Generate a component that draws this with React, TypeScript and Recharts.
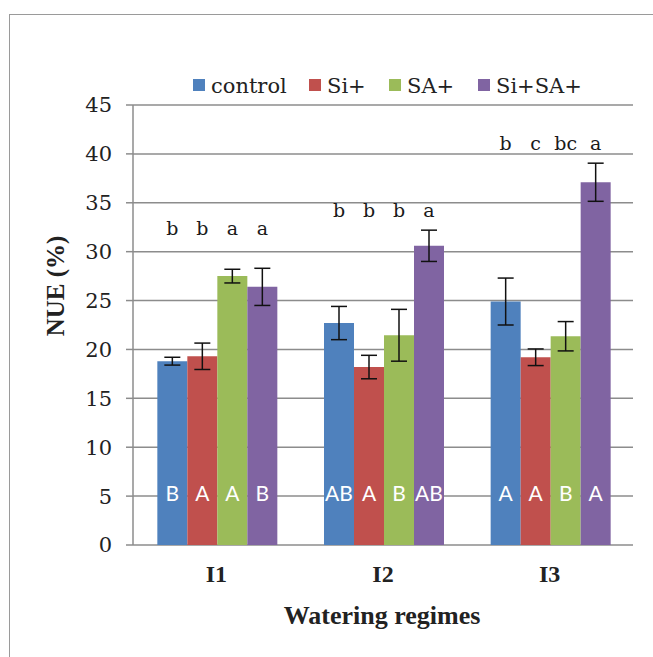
import React from 'react';
import { BarChart, Bar, XAxis, YAxis, CartesianGrid, ErrorBar, LabelList } from 'recharts';

const categories = ['I1', 'I2', 'I3'];
const seriesNames = ['control', 'Si+', 'SA+', 'Si+SA+'];
const seriesColors = ['#4F81BD', '#C0504D', '#9BBB59', '#8064A2'];

const controlValues = [18.8, 22.7, 24.9];
const siValues = [19.3, 18.2, 19.2];
const saValues = [27.5, 21.45, 21.35];
const siSaValues = [26.4, 30.6, 37.1];

const controlErr = [0.4, 1.7, 2.4];
const siErr = [1.35, 1.2, 0.85];
const saErr = [0.7, 2.65, 1.5];
const siSaErr = [1.9, 1.6, 1.95];

const controlLower = ['b', 'b', 'b'];
const siLower = ['b', 'b', 'c'];
const saLower = ['a', 'b', 'bc'];
const siSaLower = ['a', 'a', 'a'];

const controlUpper = ['B', 'AB', 'A'];
const siUpper = ['A', 'A', 'A'];
const saUpper = ['A', 'B', 'B'];
const siSaUpper = ['B', 'AB', 'A'];

// height (in NUE units) of the lowercase significance letters per group
const lowerLetterLevel = [31.7, 33.5, 40.4];
// height (in NUE units) of the uppercase letters inside bars
const upperLetterLevel = 5.3;

const yTicks = [0, 5, 10, 15, 20, 25, 30, 35, 40, 45];
const sepTicks = [0, 1, 2, 3];

const valueArrays = [controlValues, siValues, saValues, siSaValues];
const errArrays = [controlErr, siErr, saErr, siSaErr];
const lowerArrays = [controlLower, siLower, saLower, siSaLower];
const upperArrays = [controlUpper, siUpper, saUpper, siSaUpper];

const data = categories.map((cat, i) => {
  const row: any = { cat };
  for (let s = 0; s < 4; s++) {
    row['v' + s] = valueArrays[s][i];
    row['e' + s] = errArrays[s][i];
    row['l' + s] = lowerArrays[s][i];
    row['u' + s] = upperArrays[s][i];
  }
  return row;
});

const SERIF = "'DejaVu Serif', serif";
const SERIF_BOLD = "'Liberation Serif', 'Times New Roman', serif";
const SANS = "Lato, 'Open Sans', sans-serif";

function makeLower(s: number) {
  return (props: any) => {
    const { x, y, width, height, index, value } = props;
    const i = typeof index === 'number' ? index : 0;
    const v = valueArrays[s][i];
    if (!height || !v) return null;
    const bottom = y + height;
    const ppu = height / v;
    const ty = bottom - lowerLetterLevel[i] * ppu;
    return (
      <text x={x + width / 2} y={ty} textAnchor="middle" style={{ fontFamily: SERIF }} fontSize={19} fill="#1a1a1a">
        {value}
      </text>
    );
  };
}

function makeUpper(s: number) {
  return (props: any) => {
    const { x, y, width, height, index, value } = props;
    const i = typeof index === 'number' ? index : 0;
    const v = valueArrays[s][i];
    if (!height || !v) return null;
    const bottom = y + height;
    const ppu = height / v;
    const ty = bottom - upperLetterLevel * ppu;
    return (
      <text x={x + width / 2} y={ty} dy="0.36em" textAnchor="middle" style={{ fontFamily: SANS }} fontSize={21} fill="#ffffff">
        {value}
      </text>
    );
  };
}

const legendSquares = [193, 309, 389, 478];

export default function App() {
  return (
    <div style={{ position: 'absolute', left: 0, top: 0, width: 653, height: 657, background: '#fff', overflow: 'hidden' }}>
      <div
        style={{
          position: 'absolute',
          left: 9,
          top: 14,
          width: 700,
          height: 700,
          borderLeft: '1.5px solid #9a9a9a',
          borderTop: '1.5px solid #9a9a9a',
        }}
      />
      <div style={{ position: 'absolute', left: 0, top: 0 }}>
        <BarChart
          width={653}
          height={657}
          data={data}
          margin={{ top: 105, right: 20, left: 73, bottom: 72 }}
          barCategoryGap="14.6%"
          barGap={0}
        >
          <CartesianGrid vertical={false} stroke="#8c8c8c" strokeWidth={1.5} />
          <XAxis
            xAxisId="sep"
            type="number"
            domain={[0, 3]}
            ticks={sepTicks}
            tickFormatter={() => ''}
            tickSize={7}
            height={0}
            stroke="#8c8c8c"
            strokeWidth={1.5}
            allowDataOverflow
          />
          <XAxis
            dataKey="cat"
            axisLine={false}
            tickLine={false}
            tickSize={0}
            tickMargin={20}
            height={40}
            tick={{ style: { fontFamily: SERIF_BOLD }, fontSize: 24, fontWeight: 'bold', fill: '#222' }}
          />
          <YAxis
            domain={[0, 45]}
            ticks={yTicks}
            width={60}
            tickSize={7}
            tickMargin={14}
            stroke="#8c8c8c"
            strokeWidth={1.5}
            tick={{ style: { fontFamily: SERIF }, fontSize: 21, fill: '#222' }}
            interval={0}
          />
          {seriesNames.map((name, s) => (
            <Bar key={name} dataKey={'v' + s} name={name} fill={seriesColors[s]} isAnimationActive={false}>
              <ErrorBar dataKey={'e' + s} width={8} stroke="#111" strokeWidth={1.5} direction="y" />
              <LabelList dataKey={'l' + s} content={makeLower(s)} />
              <LabelList dataKey={'u' + s} content={makeUpper(s)} />
            </Bar>
          ))}
        </BarChart>
      </div>
      <svg width={653} height={657} style={{ position: 'absolute', left: 0, top: 0, pointerEvents: 'none' }}>
        {seriesNames.map((name, s) => (
          <g key={name}>
            <rect x={legendSquares[s]} y={79} width={12} height={12} fill={seriesColors[s]} />
            <text x={legendSquares[s] + 18} y={93} style={{ fontFamily: SERIF }} fontSize={21} fill="#222">
              {name}
            </text>
          </g>
        ))}
        <text
          x={0}
          y={0}
          transform="translate(64,286) rotate(-90)"
          textAnchor="middle"
          style={{ fontFamily: SERIF_BOLD }}
          fontSize={25}
          fontWeight="bold"
          fill="#222"
        >
          NUE (%)
        </text>
        <text x={382} y={624} textAnchor="middle" style={{ fontFamily: SERIF_BOLD }} fontSize={26} fontWeight="bold" fill="#222">
          Watering regimes
        </text>
      </svg>
    </div>
  );
}
